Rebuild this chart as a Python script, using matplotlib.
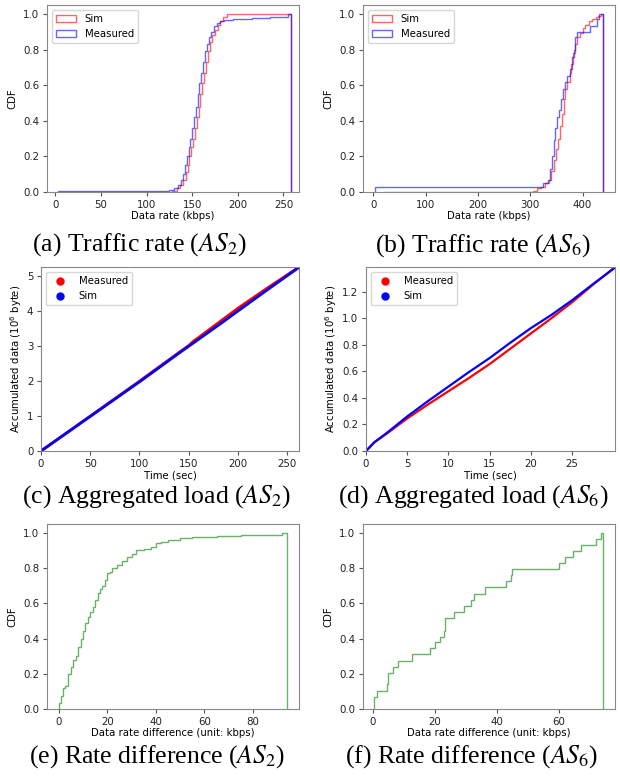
import matplotlib
matplotlib.use("Agg")
import matplotlib.pyplot as plt
from matplotlib.patches import Patch
from matplotlib.lines import Line2D

# (a) traffic rate AS2: CDF step edges (kbps) and levels
a_meas_edges = [3, 125, 130, 134, 138, 140, 142, 144, 146, 148, 150, 152, 154, 156, 158, 160,
                162, 164, 166, 168, 171, 174, 177, 180, 185, 195, 215, 235, 255, 258]
a_meas_cdf = [0.003, 0.01, 0.02, 0.04, 0.07, 0.10, 0.15, 0.20, 0.25, 0.30, 0.36, 0.42, 0.48,
              0.55, 0.61, 0.67, 0.73, 0.79, 0.83, 0.87, 0.90, 0.93, 0.95, 0.96, 0.965, 0.97,
              0.975, 0.985, 1.0]
a_sim_edges = [3, 128, 133, 137, 140, 143, 145, 147, 149, 151, 153, 155, 157, 159, 161, 163,
               165, 167, 169, 172, 175, 178, 181, 184, 188, 258]
a_sim_cdf = [0.0, 0.005, 0.02, 0.04, 0.07, 0.11, 0.15, 0.20, 0.25, 0.30, 0.36, 0.42, 0.48,
             0.55, 0.61, 0.67, 0.73, 0.79, 0.84, 0.88, 0.91, 0.94, 0.96, 0.98, 1.0]

# (b) traffic rate AS6
b_meas_edges = [2, 325, 333, 338, 342, 345, 348, 351, 355, 358, 362, 366, 370, 375, 380, 383,
                386, 390, 415, 428, 432, 440]
b_meas_cdf = [0.028, 0.05, 0.07, 0.13, 0.20, 0.29, 0.36, 0.42, 0.46, 0.52, 0.58, 0.62, 0.65,
              0.69, 0.76, 0.80, 0.87, 0.90, 0.93, 0.97, 1.0]
b_sim_edges = [20, 305, 312, 320, 328, 335, 340, 345, 350, 353, 357, 360, 364, 367, 370, 375,
               378, 382, 386, 390, 395, 400, 405, 412, 418, 425, 430, 435, 440]
b_sim_cdf = [0.0, 0.005, 0.02, 0.03, 0.05, 0.07, 0.12, 0.18, 0.24, 0.30, 0.37, 0.44, 0.52, 0.58,
             0.62, 0.67, 0.72, 0.78, 0.83, 0.87, 0.89, 0.92, 0.94, 0.96, 0.97, 0.98, 0.99, 1.0]

# (c) aggregated load AS2 (time sec, 10^6 byte)
c_time = [0, 50, 100, 140, 150, 155, 160, 180, 200, 230, 262]
c_meas = [0, 1.0, 2.0, 2.82, 3.02, 3.15, 3.25, 3.67, 4.09, 4.67, 5.27]
c_sim = [0, 0.99, 1.98, 2.80, 3.0, 3.10, 3.20, 3.60, 4.01, 4.62, 5.26]

# (d) aggregated load AS6
d_time = [0, 1, 2.5, 5, 7.5, 10, 12.5, 15, 17.5, 20, 22.5, 25, 27.5, 30.2]
d_meas = [0, 0.065, 0.13, 0.245, 0.35, 0.45, 0.55, 0.655, 0.77, 0.885, 1.0, 1.12, 1.25, 1.385]
d_sim = [0, 0.065, 0.135, 0.26, 0.375, 0.485, 0.595, 0.70, 0.815, 0.925, 1.025, 1.135, 1.255, 1.38]

# (e) rate difference AS2
e_edges = [0, 0.8, 1.7, 2.7, 3.8, 5, 6, 7, 8, 9, 10, 11, 12, 13, 14, 15, 16, 17, 18, 19, 20,
           21, 22, 24, 26, 28, 30, 32, 35, 38, 40, 42, 45, 50, 55, 65, 75, 88, 92, 94]
e_cdf = [0.035, 0.075, 0.12, 0.13, 0.20, 0.24, 0.28, 0.30, 0.35, 0.40, 0.44, 0.49, 0.52, 0.55,
         0.58, 0.62, 0.66, 0.68, 0.70, 0.73, 0.77, 0.78, 0.80, 0.82, 0.84, 0.86, 0.88, 0.90,
         0.91, 0.92, 0.94, 0.95, 0.96, 0.97, 0.975, 0.98, 0.985, 0.99, 1.0]

# (f) rate difference AS6
f_edges = [0.5, 1.3, 4.5, 5, 6.5, 8, 12.5, 18.3, 20, 21.5, 22.8, 23.3, 26.3, 29.3, 31.8, 32.5,
           36, 43, 44.5, 45, 60, 62, 64.5, 67, 72, 73.5, 74.2]
f_cdf = [0.07, 0.10, 0.14, 0.205, 0.24, 0.275, 0.31, 0.345, 0.38, 0.41, 0.445, 0.515, 0.55,
         0.585, 0.62, 0.655, 0.69, 0.725, 0.76, 0.795, 0.83, 0.86, 0.895, 0.93, 0.965, 1.0]

captions = [
    "(a) Traffic rate ($AS_2$)", "(b) Traffic rate ($AS_6$)",
    "(c) Aggregated load ($AS_2$)", "(d) Aggregated load ($AS_6$)",
    "(e) Rate difference ($AS_2$)", "(f) Rate difference ($AS_6$)",
]

plt.rcParams["font.family"] = "DejaVu Sans"
plt.rcParams["mathtext.fontset"] = "dejavusans"

fig = plt.figure(figsize=(6.2, 7.79), dpi=100)
W, H = 620.0, 779.0


def box(l, t, r, b):
    return [l / W, 1 - b / H, (r - l) / W, (b - t) / H]


def style(ax):
    for s in ax.spines.values():
        s.set_color("#888888")
    ax.tick_params(labelsize=7.4, length=3, color="#555555", colors="#222222", pad=2.5)


axes = [
    fig.add_axes(box(47, 5, 299, 192)),
    fig.add_axes(box(363, 5, 615, 192)),
    fig.add_axes(box(41, 267, 299, 451)),
    fig.add_axes(box(366, 267, 615, 451)),
    fig.add_axes(box(47, 524, 299, 709)),
    fig.add_axes(box(363, 524, 615, 709)),
]
for ax in axes:
    style(ax)

lab = 7.3

# (a)
ax = axes[0]
ax.stairs(a_sim_cdf, a_sim_edges, baseline=0, color="r", alpha=0.6, lw=1)
ax.stairs(a_meas_cdf, a_meas_edges, baseline=0, color="b", alpha=0.6, lw=1)
ax.set_xlim(-9, 267)
ax.set_ylim(0, 1.05)
ax.set_xticks([0, 50, 100, 150, 200, 250])
ax.set_xlabel("Data rate (kbps)", fontsize=lab, labelpad=1)
ax.set_ylabel("CDF", fontsize=lab)
hist_handles = [Patch(facecolor="none", edgecolor="r", alpha=0.6, label="Sim"),
                Patch(facecolor="none", edgecolor="b", alpha=0.6, label="Measured")]
ax.legend(handles=hist_handles, loc="upper left", fontsize=7.3, handlelength=2.0)

# (b)
ax = axes[1]
ax.stairs(b_sim_cdf, b_sim_edges, baseline=0, color="r", alpha=0.6, lw=1)
ax.stairs(b_meas_cdf, b_meas_edges, baseline=0, color="b", alpha=0.6, lw=1)
ax.set_xlim(-20, 462)
ax.set_ylim(0, 1.05)
ax.set_xticks([0, 100, 200, 300, 400])
ax.set_xlabel("Data rate (kbps)", fontsize=lab, labelpad=1)
ax.set_ylabel("CDF", fontsize=lab)
ax.legend(handles=hist_handles, loc="upper left", fontsize=7.3, handlelength=2.0)

# (c) and (d)
dot_handles = [Line2D([], [], ls="none", marker="o", color="r", markersize=5, label="Measured"),
               Line2D([], [], ls="none", marker="o", color="b", markersize=5, label="Sim")]
ax = axes[2]
ax.plot(c_time, c_meas, color="r", lw=2.0)
ax.plot(c_time, c_sim, color="b", lw=2.0)
ax.set_xlim(0, 262)
ax.set_ylim(0, 5.27)
ax.set_xticks([0, 50, 100, 150, 200, 250])
ax.set_xlabel("Time (sec)", fontsize=lab, labelpad=1)
ax.set_ylabel("Accumulated data ($10^6$ byte)", fontsize=lab, labelpad=2)
ax.legend(handles=dot_handles, loc="upper left", fontsize=7.3)

ax = axes[3]
ax.plot(d_time, d_meas, color="r", lw=1.6)
ax.plot(d_time, d_sim, color="b", lw=1.6)
ax.set_xlim(0, 30.2)
ax.set_ylim(0, 1.385)
ax.set_xticks([0, 5, 10, 15, 20, 25])
ax.set_yticks([0.0, 0.2, 0.4, 0.6, 0.8, 1.0, 1.2])
ax.set_xlabel("Time (sec)", fontsize=lab, labelpad=1)
ax.set_ylabel("Accumulated data ($10^6$ byte)", fontsize=lab, labelpad=2)
ax.legend(handles=dot_handles, loc="upper left", fontsize=7.3)

# (e)
ax = axes[4]
ax.stairs(e_cdf, e_edges, baseline=0, color="g", alpha=0.6, lw=1)
ax.set_xlim(-4.8, 98.9)
ax.set_ylim(0, 1.05)
ax.set_xticks([0, 20, 40, 60, 80])
ax.set_xlabel("Data rate difference (unit: kbps)", fontsize=lab, labelpad=1)
ax.set_ylabel("CDF", fontsize=lab)

# (f)
ax = axes[5]
ax.stairs(f_cdf, f_edges, baseline=0, color="g", alpha=0.6, lw=1)
ax.set_xlim(-3.2, 78.1)
ax.set_ylim(0, 1.05)
ax.set_xticks([0, 20, 40, 60])
ax.set_xlabel("Data rate difference (unit: kbps)", fontsize=lab, labelpad=1)
ax.set_ylabel("CDF", fontsize=lab)

cap_pos = [(139, 245), (483, 246), (157, 497), (473, 497), (157, 757), (472, 757)]
for (cx, cy), txt in zip(cap_pos, captions):
    fig.text(cx / W, 1 - cy / H, txt, ha="center", va="center", fontsize=18.5,
             family="Liberation Serif", math_fontfamily="stix")

fig.savefig("out.png", dpi=100)
